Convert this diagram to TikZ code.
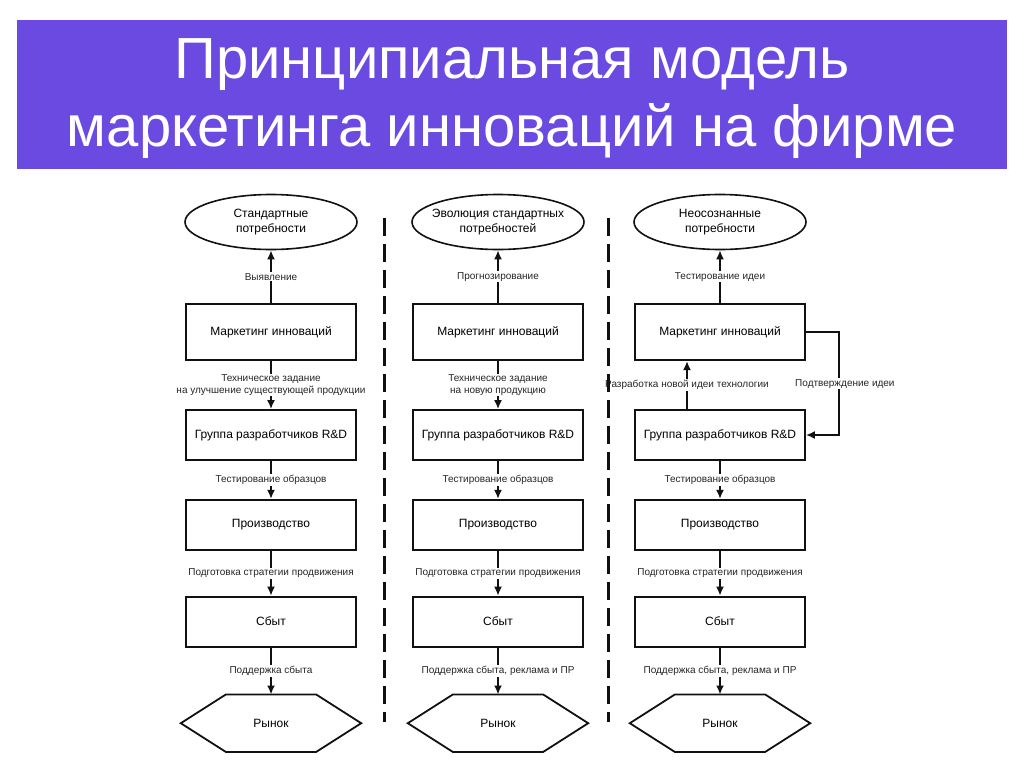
\documentclass[tikz,border=0pt]{standalone}
\usepackage{fontspec}
\setmainfont{Liberation Sans}
\usetikzlibrary{arrows.meta,positioning,shapes.geometric}
\definecolor{accent}{HTML}{6A4AE0}
\definecolor{ink}{HTML}{111111}
\tikzset{
  title/.style={fill=accent, minimum width=990pt, minimum height=149pt, inner sep=0pt},
  titletext/.style={text=white, font=\fontsize{58}{68}\selectfont, align=center},
  box/.style={draw=ink, line width=1.8pt, minimum width=170pt, minimum height=50pt,
              font=\fontsize{12}{14}\selectfont, align=center},
  need/.style={ellipse, draw=ink, line width=1.6pt, minimum width=172pt,
               minimum height=55pt, inner sep=0pt},
  needtext/.style={align=center, font=\fontsize{12}{15}\selectfont},
  market/.style={minimum width=180pt, minimum height=57pt, font=\fontsize{12}{14}\selectfont},
  arr/.style={-{Latex[length=9pt,width=8pt]}, line width=2.2pt, ink},
  lbl/.style={fill=white, inner sep=1pt, font=\fontsize{10}{11.5}\selectfont,
              align=center, text=black!85},
  sep/.style={line width=3pt, dash pattern=on 18pt off 8pt, ink}
}

\begin{document}
\begin{tikzpicture}[x=1pt, y=1pt]
  \useasboundingbox (0,0) rectangle (1024,-768);
  \node[title, label={[titletext, yshift=-4pt]center:Принципиальная модель\\маркетинга инноваций на фирме}]
    (head) at (512,-94.5) {};

  % standard needs
  \node[need, label={[needtext]center:Стандартные\\потребности}] (need1) at (271,-222) {};
  \node[box, minimum height=56pt, below=53pt of need1] (mi1) {Маркетинг инноваций};
  \node[box, below=48pt of mi1] (rd1) {Группа разработчиков R\&D};
  \node[box, below=38pt of rd1] (prod1) {Производство};
  \node[box, below=45pt of prod1] (sales1) {Сбыт};
  \node[market, below=47pt of sales1] (market1) {Рынок};
  \draw[arr] (mi1) -- node[lbl] {Выявление} (need1);
  \draw[arr] (mi1) -- node[lbl] {Техническое задание\\на улучшение существующей продукции} (rd1);
  \draw[arr] (rd1) -- node[lbl] {Тестирование образцов} (prod1);
  \draw[arr] (prod1) -- node[lbl] {Подготовка стратегии продвижения} (sales1);
  \draw[arr] (sales1) -- node[lbl] {Поддержка сбыта} (market1);

  % evolution of needs
  \node[need, label={[needtext]center:Эволюция стандартных\\потребностей}] (need2) at (498,-222) {};
  \node[box, minimum height=56pt, below=53pt of need2] (mi2) {Маркетинг инноваций};
  \node[box, below=48pt of mi2] (rd2) {Группа разработчиков R\&D};
  \node[box, below=38pt of rd2] (prod2) {Производство};
  \node[box, below=45pt of prod2] (sales2) {Сбыт};
  \node[market, below=47pt of sales2] (market2) {Рынок};
  \draw[arr] (mi2) -- node[lbl] {Прогнозирование} (need2);
  \draw[arr] (mi2) -- node[lbl] {Техническое задание\\на новую продукцию} (rd2);
  \draw[arr] (rd2) -- node[lbl] {Тестирование образцов} (prod2);
  \draw[arr] (prod2) -- node[lbl] {Подготовка стратегии продвижения} (sales2);
  \draw[arr] (sales2) -- node[lbl] {Поддержка сбыта, реклама и ПР} (market2);

  % hidden needs
  \node[need, label={[needtext]center:Неосознанные\\потребности}] (need3) at (720,-222) {};
  \node[box, minimum height=56pt, below=53pt of need3] (mi3) {Маркетинг инноваций};
  \node[box, below=48pt of mi3] (rd3) {Группа разработчиков R\&D};
  \node[box, below=38pt of rd3] (prod3) {Производство};
  \node[box, below=45pt of prod3] (sales3) {Сбыт};
  \node[market, below=47pt of sales3] (market3) {Рынок};
  \draw[arr] (mi3) -- node[lbl] {Тестирование идеи} (need3);
  \draw[arr] ([xshift=-33pt]rd3.north) -- node[lbl] {Разработка новой идеи технологии} ([xshift=-33pt]mi3.south);
  \draw[arr] (mi3.east) -- ++(33pt,0) |- node[lbl, pos=0.25, xshift=6pt] {Подтверждение идеи} (rd3.east);
  \draw[arr] (rd3) -- node[lbl] {Тестирование образцов} (prod3);
  \draw[arr] (prod3) -- node[lbl] {Подготовка стратегии продвижения} (sales3);
  \draw[arr] (sales3) -- node[lbl] {Поддержка сбыта, реклама и ПР} (market3);

  % hexagons round the markets
  \foreach \m in {market1,market2,market3}
    \draw[line width=1.8pt, ink] (\m.west) -- ([xshift=45pt]\m.north west) -- ([xshift=-45pt]\m.north east)
      -- (\m.east) -- ([xshift=-45pt]\m.south east) -- ([xshift=45pt]\m.south west) -- cycle;

  \draw[sep] (384,-218) -- (384,-722);
  \draw[sep] (608,-218) -- (608,-722);
\end{tikzpicture}
\end{document}
